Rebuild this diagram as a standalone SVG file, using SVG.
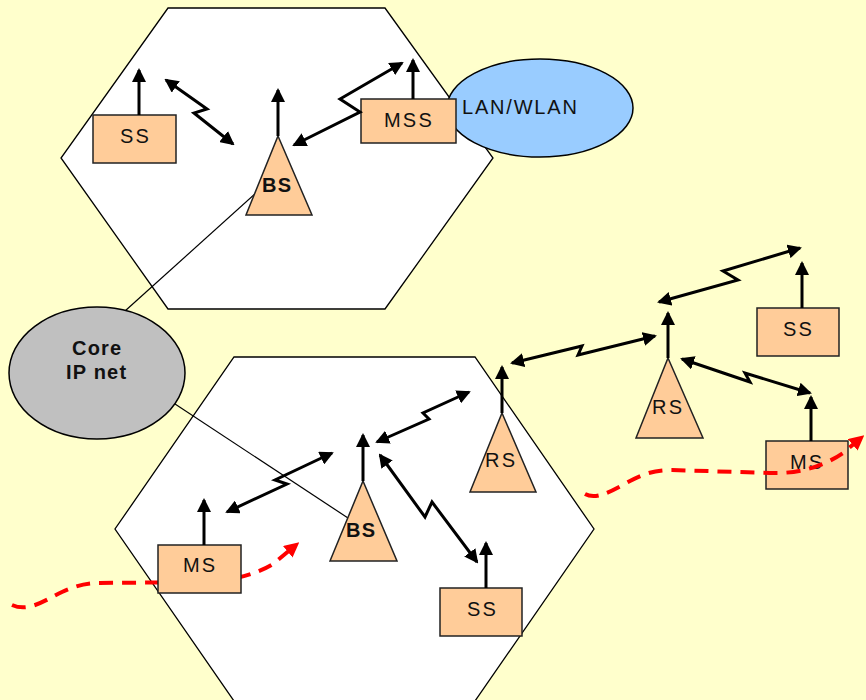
<svg xmlns="http://www.w3.org/2000/svg" width="866" height="700" viewBox="0 0 866 700">
  <style>
    .cell { fill: #ffffff; stroke: #000; stroke-width: 1.3; }
    .box { fill: #ffcc99; stroke: #222; stroke-width: 1.5; }
    .tower { fill: #ffcc99; stroke: #222; stroke-width: 1.5; }
    .lbl { font-family: "Liberation Sans", Arial, sans-serif; font-size: 20px; fill: #111; letter-spacing: 2.2px; }
    .bold { font-weight: bold; letter-spacing: 1.2px; }
    .ant { stroke: #000; stroke-width: 3; fill: none; marker-end: url(#ah); }
    .link { stroke: #000; stroke-width: 3; fill: none; stroke-linejoin: miter; marker-start: url(#ah); marker-end: url(#ah); }
    .wire { stroke: #000; stroke-width: 1.2; fill: none; }
    .path { stroke: #ff0000; stroke-width: 4; fill: none; stroke-dasharray: 14 9; marker-end: url(#rh); }
  </style>
  <defs>
    <marker id="ah" viewBox="0 0 14 14" refX="12" refY="7" markerWidth="14" markerHeight="14" markerUnits="userSpaceOnUse" orient="auto-start-reverse">
      <path d="M0,0 L14,7 L0,14 z" fill="#000"/>
    </marker>
    <marker id="rh" viewBox="0 0 14 14" refX="10" refY="7" markerWidth="15" markerHeight="15" markerUnits="userSpaceOnUse" orient="auto">
      <path d="M0,0 L14,7 L0,14 z" fill="#ff0000"/>
    </marker>
  </defs>

  <rect width="866" height="700" fill="#ffffcc"/>

  <!-- cells -->
  <g id="cell-top">
    <polygon class="cell" points="168,8 385,8 493,158 385,309 168,309 61,158"/>
  </g>
  <g id="cell-bottom">
    <polygon class="cell" points="234,357 475,357 594,529 475,701 234,701 115,529"/>
  </g>

  <!-- backhaul wires to core network -->
  <g id="backhaul">
    <line class="wire" x1="125" y1="311" x2="256" y2="193"/>
    <line class="wire" x1="172" y1="402" x2="348" y2="518"/>
  </g>

  <g id="lan">
    <ellipse cx="540" cy="108" rx="93" ry="49" fill="#99ccff" stroke="#000" stroke-width="1.5"/>
    <text class="lbl" x="462" y="114" style="letter-spacing:1.8px">LAN/WLAN</text>
  </g>

  <g id="core">
    <ellipse cx="97" cy="373" rx="88" ry="66" fill="#c0c0c0" stroke="#000" stroke-width="1.5"/>
    <text class="lbl bold" x="72" y="355">Core</text>
    <text class="lbl bold" x="66" y="379">IP net</text>
  </g>

  <!-- mobility path behind the left MS -->
  <g id="mobility-left">
    <path class="path" d="M12,605 C28,612 42,602 62,592 C75,586 86,583 100,583 L200,582 C230,581 255,575 273,564 L296,545"/>
  </g>

  <!-- stations -->
  <g id="ss-top">
    <rect class="box" x="93" y="115" width="83" height="48"/>
    <text class="lbl" x="120" y="143">SS</text>
  </g>
  <g id="mss-top">
    <rect class="box" x="361" y="99" width="95" height="44"/>
    <text class="lbl" x="384" y="127">MSS</text>
  </g>
  <g id="bs-top">
    <polygon class="tower" points="278,136 312,215 246,215"/>
    <text class="lbl bold" x="262" y="192">BS</text>
  </g>
  <g id="bs-bottom">
    <polygon class="tower" points="363,481 397,561 330,561"/>
    <text class="lbl bold" x="346" y="537">BS</text>
  </g>
  <g id="rs-bottom">
    <polygon class="tower" points="502,413 536,492 470,492"/>
    <text class="lbl" x="485" y="467">RS</text>
  </g>
  <g id="ss-bottom">
    <rect class="box" x="440" y="588" width="82" height="48"/>
    <text class="lbl" x="467" y="616">SS</text>
  </g>
  <g id="ms-left">
    <rect class="box" x="158" y="545" width="83" height="48"/>
    <text class="lbl" x="183" y="572">MS</text>
  </g>
  <g id="rs-right">
    <polygon class="tower" points="668,358 703,438 636,438"/>
    <text class="lbl" x="652" y="414">RS</text>
  </g>
  <g id="ss-right">
    <rect class="box" x="757" y="308" width="82" height="48"/>
    <text class="lbl" x="783" y="336">SS</text>
  </g>
  <g id="ms-right">
    <rect class="box" x="766" y="441" width="82" height="48"/>
    <text class="lbl" x="790" y="469">MS</text>
  </g>

  <!-- mobility path running over the right MS -->
  <g id="mobility-right">
    <path class="path" d="M585,494 C596,500 610,492 630,481 C645,473 656,470 672,470 L770,473 C800,474 824,466 843,453 L861,438"/>
  </g>

  <!-- antennas and radio links -->
  <g id="connectors">
    <line class="ant" x1="139" y1="115" x2="139" y2="70"/>
    <line class="ant" x1="413" y1="99" x2="413" y2="60"/>
    <line class="ant" x1="278" y1="136" x2="278" y2="90"/>
    <line class="ant" x1="363" y1="481" x2="363" y2="435"/>
    <line class="ant" x1="502" y1="413" x2="502" y2="367"/>
    <line class="ant" x1="486" y1="588" x2="486" y2="543"/>
    <line class="ant" x1="204" y1="545" x2="204" y2="500"/>
    <line class="ant" x1="668" y1="358" x2="668" y2="313"/>
    <line class="ant" x1="802" y1="308" x2="802" y2="263"/>
    <line class="ant" x1="811" y1="441" x2="811" y2="397"/>

    <polyline class="link" points="166,80 207,109 194,113 233,144"/>
    <polyline class="link" points="294,145 360,112 340,99 402,63"/>
    <polyline class="link" points="227,512 287,484 275,480 332,453"/>
    <polyline class="link" points="377,442 429,419 423,413 469,392"/>
    <polyline class="link" points="380,455 425,517 432,502 477,562"/>
    <polyline class="link" points="512,363 582,346 578,355 655,336"/>
    <polyline class="link" points="659,302 738,280 723,271 800,248"/>
    <polyline class="link" points="682,359 750,382 745,373 810,393"/>
  </g>
</svg>
